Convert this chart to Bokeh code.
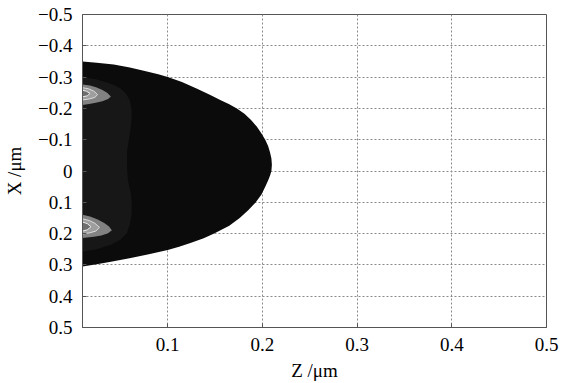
import numpy as np
from bokeh.plotting import figure
from bokeh.models import FixedTicker, Range1d
from bokeh.embed import file_html
from bokeh.resources import INLINE

# ---- axis ticks ----
x_ticks = [0.1, 0.2, 0.3, 0.4, 0.5]
x_tick_labels = ["0.1", "0.2", "0.3", "0.4", "0.5"]
y_ticks = [-0.5, -0.4, -0.3, -0.2, -0.1, 0.0, 0.1, 0.2, 0.3, 0.4, 0.5]
y_tick_labels = ["\u22120.5", "\u22120.4", "\u22120.3", "\u22120.2", "\u22120.1", "0",
                 "0.1", "0.2", "0.3", "0.4", "0.5"]
x_title = "Z /\u03bcm"
y_title = "X /\u03bcm"

# ---- contour level boundaries (Z, X) ----
outer_z = [0.010, 0.025, 0.043, 0.060, 0.078, 0.090, 0.100, 0.115, 0.131, 0.145, 0.156, 0.165,
           0.173, 0.181, 0.188, 0.194, 0.199, 0.203, 0.206, 0.208, 0.2095, 0.210, 0.2095, 0.208,
           0.206, 0.203, 0.199, 0.193, 0.185, 0.176, 0.165, 0.149, 0.138, 0.124, 0.112, 0.100,
           0.080, 0.061, 0.040, 0.025, 0.010]
outer_x = [-0.350, -0.346, -0.340, -0.331, -0.318, -0.309, -0.300, -0.284, -0.263, -0.243, -0.226, -0.213,
           -0.200, -0.183, -0.163, -0.142, -0.120, -0.100, -0.080, -0.060, -0.040, -0.020, 0.000, 0.015,
           0.030, 0.050, 0.075, 0.100, 0.125, 0.150, 0.175, 0.200, 0.215, 0.230, 0.242, 0.252,
           0.266, 0.278, 0.290, 0.298, 0.305]

mid_z = [0.010, 0.025, 0.040, 0.050, 0.056, 0.060, 0.062, 0.062, 0.061, 0.059, 0.057, 0.057,
         0.058, 0.061, 0.062, 0.062, 0.060, 0.057, 0.050, 0.040, 0.025, 0.010]
mid_x = [-0.300, -0.292, -0.279, -0.264, -0.247, -0.225, -0.195, -0.173, -0.140, -0.100, -0.060, -0.014,
         0.030, 0.071, 0.105, 0.135, 0.170, 0.198, 0.220, 0.236, 0.250, 0.257]

b1_outer_z = [0.010, 0.018, 0.025, 0.031, 0.036, 0.040, 0.037, 0.031, 0.024, 0.017, 0.010]
b1_outer_x = [-0.276, -0.273, -0.267, -0.259, -0.250, -0.238, -0.230, -0.223, -0.218, -0.214, -0.211]
b1_inner_z = [0.010, 0.016, 0.022, 0.026, 0.023, 0.017, 0.010]
b1_inner_x = [-0.266, -0.263, -0.255, -0.244, -0.235, -0.230, -0.227]
b1_core_z = [0.010, 0.014, 0.018, 0.015, 0.010]
b1_core_x = [-0.258, -0.255, -0.248, -0.240, -0.237]

b2_outer_z = [0.010, 0.018, 0.026, 0.033, 0.038, 0.041, 0.037, 0.030, 0.022, 0.010]
b2_outer_x = [0.140, 0.145, 0.155, 0.166, 0.177, 0.189, 0.199, 0.206, 0.210, 0.214]
b2_inner_z = [0.010, 0.017, 0.023, 0.028, 0.024, 0.017, 0.010]
b2_inner_x = [0.153, 0.158, 0.167, 0.180, 0.192, 0.198, 0.201]
b2_core_z = [0.010, 0.015, 0.019, 0.015, 0.010]
b2_core_x = [0.163, 0.168, 0.178, 0.188, 0.192]

level_colors = ["#0b0b0b", "#171717", "#828282", "#9e9e9e", "#6e6e6e"]

p = figure(width=561, height=383, output_backend="svg", toolbar_location=None,
           x_range=Range1d(0.01, 0.5), y_range=Range1d(0.5, -0.5),
           min_border_left=82, min_border_right=15, min_border_top=14, min_border_bottom=55)
p.background_fill_color = "white"
p.border_fill_color = "white"
p.outline_line_color = "#555555"

p.patches(xs=[outer_z, mid_z], ys=[outer_x, mid_x], fill_color=level_colors[:2], line_color=None)
p.patches(xs=[b1_outer_z, b2_outer_z], ys=[b1_outer_x, b2_outer_x], fill_color=level_colors[2], line_color=None)
p.patches(xs=[b1_inner_z, b2_inner_z], ys=[b1_inner_x, b2_inner_x], fill_color=level_colors[3],
          line_color="#dcdcdc", line_width=1)
p.patches(xs=[b1_core_z, b2_core_z], ys=[b1_core_x, b2_core_x], fill_color=level_colors[4],
          line_color="#ececec", line_width=1)

font = "Liberation Serif"
p.xaxis.ticker = FixedTicker(ticks=x_ticks)
p.yaxis.ticker = FixedTicker(ticks=y_ticks)
p.xaxis.major_label_overrides = dict(zip(x_ticks, x_tick_labels))
p.yaxis.major_label_overrides = dict(zip(y_ticks, y_tick_labels))
p.xaxis.axis_label = x_title
p.yaxis.axis_label = y_title
for ax in (p.xaxis[0], p.yaxis[0]):
    ax.major_label_text_font = font
    ax.major_label_text_font_size = "19px"
    ax.major_label_text_color = "black"
    ax.axis_label_text_font = font
    ax.axis_label_text_font_size = "19px"
    ax.axis_label_text_font_style = "normal"
    ax.axis_label_text_color = "black"
    ax.major_tick_in = 4
    ax.major_tick_out = 0
    ax.minor_tick_line_color = None
    ax.axis_line_color = "#555555"
    ax.major_tick_line_color = "#555555"
    ax.major_label_standoff = 10
p.xaxis.axis_label_standoff = 6
p.yaxis.axis_label_standoff = 10

for g in (p.xgrid[0], p.ygrid[0]):
    g.grid_line_color = "#8a8a8a"
    g.grid_line_dash = "2 2"
    g.grid_line_width = 1
p.xgrid.ticker = FixedTicker(ticks=x_ticks[:-1])
p.ygrid.ticker = FixedTicker(ticks=y_ticks[1:-1])

open("out.html", "w").write(file_html(p, INLINE))
